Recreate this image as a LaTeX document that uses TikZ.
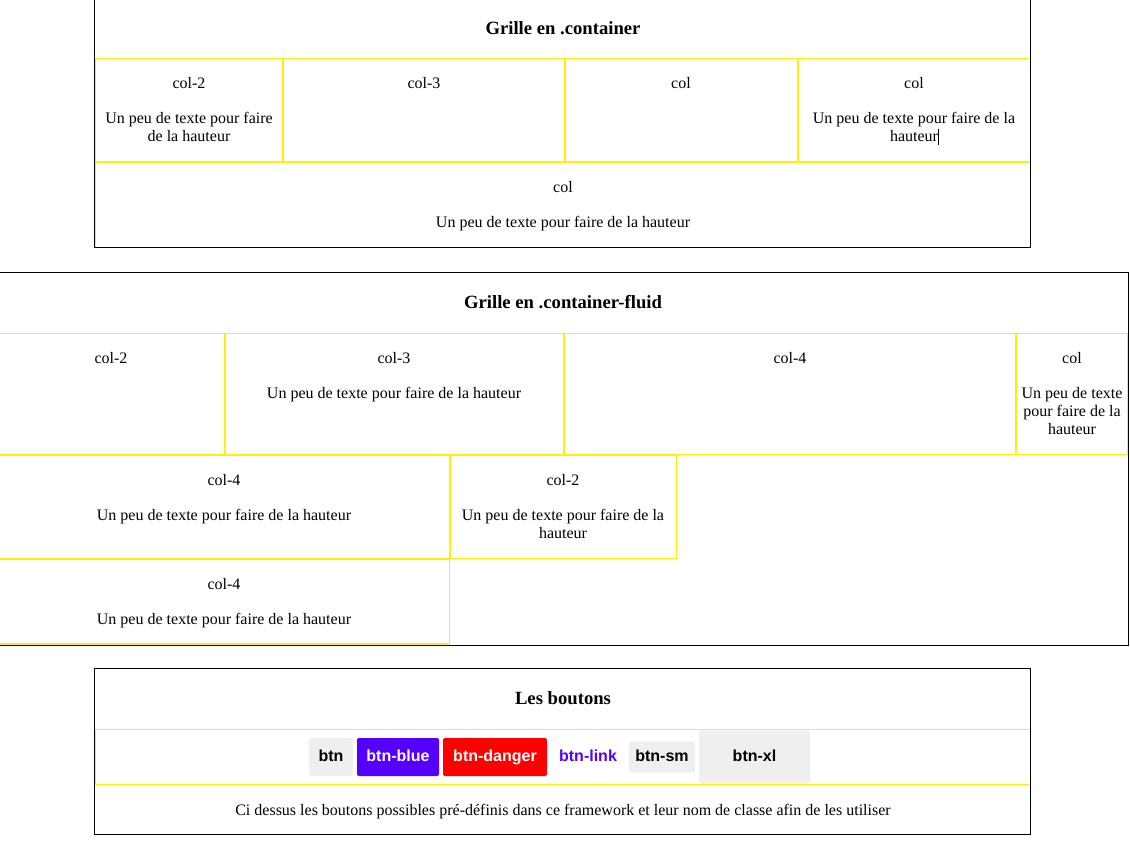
\documentclass[tikz,border=0pt]{standalone}
\usepackage{fontspec}
\setmainfont{Liberation Serif}
\newfontfamily\btnfont{Liberation Sans}
\usetikzlibrary{positioning}
\definecolor{btnblue}{RGB}{85,0,255}
\definecolor{btngray}{RGB}{239,239,239}
\tikzset{
  frame/.style={draw=black,line width=0.75pt},
  cell/.style={draw=yellow,line width=0.9pt},
  gridtitle/.style={font=\fontsize{14}{16}\selectfont\bfseries,inner sep=0pt},
  coltitle/.style={font=\fontsize{12}{13.5}\selectfont,inner sep=0pt},
  coltext/.style={font=\fontsize{12}{13.5}\selectfont,align=center,inner sep=0pt},
  btnbox/.style={font=\btnfont\fontsize{12}{14}\selectfont\bfseries,inner sep=0pt,outer sep=0pt,
    text height=8.7pt,text depth=2.6pt,rounded corners=1.5pt,minimum height=28.5pt}
}
\begin{document}
\begin{tikzpicture}[x=0.75pt,y=-0.75pt]
  \useasboundingbox (0,0) rectangle (1130,848);
  % grille en .container
  \foreach \xa/\xb in {95/283,283/565,565/798,798/1031}
    \draw[cell] (\xa+0.6,58.6) rectangle (\xb-0.6,161.4);
  \draw[cell] (95.6,162.6) rectangle (1030.4,247.4);
  \draw[frame] (94.5,-5) rectangle (1030.5,247.8);
  \node[gridtitle] (g1) at (563,28) {Grille en .container};
  \node[coltitle] (g1a) at (189,83) {col-2};
  \node[coltext] (g1at) at (189,127) {Un peu de texte pour faire\\de la hauteur};
  \node[coltitle] (g1b) at (424,83) {col-3};
  \node[coltitle] (g1c) at (681,83) {col};
  \node[coltitle] (g1d) at (914,83) {col};
  \node[coltext] (g1dt) at (914,127) {Un peu de texte pour faire de la\\hauteur\rlap{\kern0.3pt\smash{\rule[-2.5pt]{0.75pt}{12pt}}}};
  \node[coltitle] (g1e) at (563,187) {col};
  \node[coltext] (g1et) at (563,224) {Un peu de texte pour faire de la hauteur};
  % grille en .container-fluid
  \draw[cell] (-5,333.5) -- (1127,333.5);
  \foreach \xa/\xb in {-5/225,225/564,564/1016,1016/1128}
    \draw[cell] (\xa+0.6,333.6) rectangle (\xb-0.6,454.4);
  \foreach \xa/\xb in {-5/450,450/677}
    \draw[cell] (\xa+0.6,455.6) rectangle (\xb-0.6,558.4);
  \draw[cell] (-4.4,559.6) rectangle (449.4,644);
  \draw[frame] (-5,272.5) rectangle (1128,645);
  \node[gridtitle] (g2) at (563,302) {Grille en .container-fluid};
  \node[coltitle] (g2a) at (111,358) {col-2};
  \node[coltitle] (g2b) at (394,358) {col-3};
  \node[coltext] (g2bt) at (394,395) {Un peu de texte pour faire de la hauteur};
  \node[coltitle] (g2c) at (790,358) {col-4};
  \node[coltitle] (g2d) at (1072,358) {col};
  \node[coltext] (g2dt) at (1072,411) {Un peu de texte\\pour faire de la\\hauteur};
  \node[coltitle] (g2e) at (224,480) {col-4};
  \node[coltext] (g2et) at (224,517) {Un peu de texte pour faire de la hauteur};
  \node[coltitle] (g2f) at (563,480) {col-2};
  \node[coltext] (g2ft) at (563,524) {Un peu de texte pour faire de la\\hauteur};
  \node[coltitle] (g2g) at (224,584) {col-4};
  \node[coltext] (g2gt) at (224,621) {Un peu de texte pour faire de la hauteur};
  % les boutons
  \draw[cell] (95.6,729.6) rectangle (1030.4,784.4);
  \draw[frame] (94.5,668.5) rectangle (1030.5,834.5);
  \node[gridtitle] (g3) at (563,698) {Les boutons};
  \node[btnbox,fill=btngray,minimum width=33pt,anchor=west] (btn) at (309,757) {btn};
  \node[btnbox,fill=btnblue,text=white,minimum width=61.5pt,right=3pt of btn] (btnb) {btn-blue};
  \node[btnbox,fill=red,text=white,minimum width=78pt,right=3pt of btnb] (btnd) {btn-danger};
  \node[btnbox,text=btnblue,minimum width=55.5pt,right=3pt of btnd] (btnl) {btn-link};
  \node[btnbox,fill=btngray,minimum width=49.5pt,minimum height=23.25pt,right=3pt of btnl] (btns) {btn-sm};
  \node[btnbox,fill=btngray,minimum width=83.25pt,minimum height=39.75pt,right=3pt of btns] (btnx) {btn-xl};
  \node[coltext] (g3t) at (563,812) {Ci dessus les boutons possibles pré-définis dans ce framework et leur nom de classe afin de les utiliser};
\end{tikzpicture}
\end{document}
